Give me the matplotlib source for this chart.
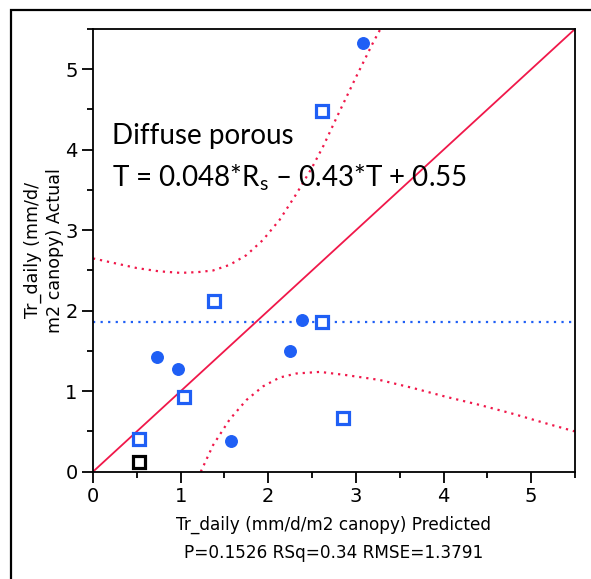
import matplotlib
matplotlib.use("Agg")
import matplotlib.pyplot as plt
from matplotlib.patches import Rectangle

# ---- data ----
circ_x = [3.08, 0.73, 0.97, 1.57, 2.25, 2.39]
circ_y = [5.32, 1.43, 1.27, 0.38, 1.50, 1.88]

sq_x = [2.61, 0.53, 1.04, 1.38, 2.61, 2.85]
sq_y = [4.48, 0.41, 0.93, 2.12, 1.86, 0.67]

blk_x = [0.53]
blk_y = [0.12]

fit_x = [0.0, 5.5]
fit_y = [0.0, 5.5]

mean_y = 1.86

upper_x = [0.0, 0.25, 0.5, 0.75, 1.0, 1.2, 1.37, 1.56, 1.75, 1.94, 2.13, 2.32, 2.5, 2.63, 2.78, 3.0, 3.2, 3.28]
upper_y = [2.65, 2.59, 2.53, 2.49, 2.47, 2.48, 2.50, 2.57, 2.69, 2.88, 3.13, 3.45, 3.78, 4.05, 4.40, 4.90, 5.34, 5.50]

lower_x = [1.23, 1.37, 1.56, 1.75, 1.94, 2.13, 2.32, 2.59, 2.89, 3.27, 3.65, 4.03, 4.41, 4.79, 5.17, 5.5]
lower_y = [0.0, 0.33, 0.65, 0.89, 1.06, 1.17, 1.22, 1.24, 1.20, 1.14, 1.04, 0.93, 0.83, 0.72, 0.60, 0.50]

xticks = [0, 1, 2, 3, 4, 5]
yticks = [0, 1, 2, 3, 4, 5]

title1 = "Diffuse porous"
title2 = "T = 0.048*R$_\\mathregular{s}$ \u2013 0.43*T + 0.55"
xlabel = "Tr_daily (mm/d/m2 canopy) Predicted"
xlabel2 = "P=0.1526 RSq=0.34 RMSE=1.3791"
ylabel = "Tr_daily (mm/d/\nm2 canopy) Actual"

# ---- style ----
plt.rcParams['font.family'] = ['DejaVu Sans']
plt.rcParams['mathtext.fontset'] = 'custom'
plt.rcParams['mathtext.rm'] = 'Lato'

BLUE = '#1f5ff5'
RED = '#f0184a'

fig = plt.figure(figsize=(5.91, 5.79), dpi=100)
ax = fig.add_axes([93/591, 1-471.7/579, (575-93)/591, (471.7-29)/579])

ax.set_xlim(0, 5.5)
ax.set_ylim(0, 5.5)

ax.plot(fit_x, fit_y, color=RED, lw=1.3, zorder=2)
ax.axhline(mean_y, color=BLUE, lw=1.6, linestyle=(0, (1, 2.4)), dash_capstyle='butt', zorder=2)
ax.plot(upper_x, upper_y, color=RED, lw=1.6, linestyle=(0, (1, 2.2)), dash_capstyle='butt', zorder=2)
ax.plot(lower_x, lower_y, color=RED, lw=1.6, linestyle=(0, (1, 2.2)), dash_capstyle='butt', zorder=2)

ax.plot(circ_x, circ_y, 'o', color=BLUE, ms=8.3, mec=BLUE, zorder=3, clip_on=False)
ax.plot(sq_x, sq_y, 's', mfc='white', mec=BLUE, mew=2.3, ms=8.5, zorder=3, clip_on=False)
ax.plot(blk_x, blk_y, 's', mfc='white', mec='black', mew=2.3, ms=8.5, zorder=3, clip_on=False)

ax.set_xticks(xticks)
ax.set_yticks(yticks)
ax.set_xticks([0.5, 1.5, 2.5, 3.5, 4.5, 5.5], minor=True)
ax.set_yticks([0.5, 1.5, 2.5, 3.5, 4.5, 5.5], minor=True)
ax.tick_params(which='major', direction='out', length=8, width=1.3, labelsize=14, pad=3)
ax.tick_params(which='minor', direction='out', length=4.5, width=1.3)
for s in ax.spines.values():
    s.set_linewidth(1.3)

ax.set_xlabel(xlabel + "\n" + xlabel2, fontsize=12.2, labelpad=7, linespacing=1.7)
ax.set_ylabel(ylabel, fontsize=12.6, labelpad=1, linespacing=1.25, ha='center')

ax.text(112/591, 1-136/579, title1, transform=fig.transFigure, fontfamily='Lato',
        fontsize=20, va='center', ha='left')
ax.text(112/591, 1-178/579, title2, transform=fig.transFigure, fontfamily='Lato',
        fontsize=20, va='center', ha='left')

# outer frame (cropped at right/bottom)
fig.patches.append(Rectangle((11/591, -0.2), 1.2, 1-10/579+0.2, transform=fig.transFigure,
                             fill=False, ec='black', lw=1.6))

fig.savefig('out.png', dpi=100)
